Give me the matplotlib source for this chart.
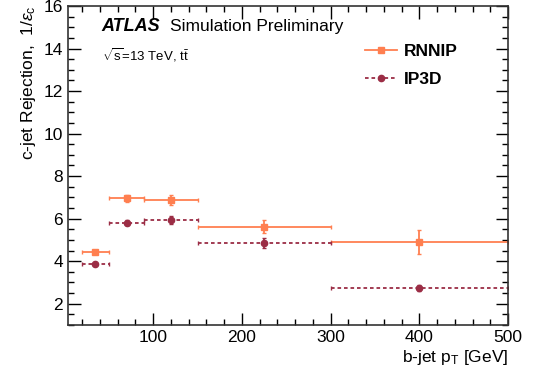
import matplotlib
matplotlib.use("Agg")
import matplotlib.pyplot as plt
from matplotlib.ticker import MultipleLocator
from matplotlib.lines import Line2D

plt.rcParams['font.family'] = ['Liberation Sans', 'DejaVu Sans']
plt.rcParams['mathtext.fontset'] = 'custom'
plt.rcParams['mathtext.rm'] = 'Liberation Sans'
plt.rcParams['mathtext.it'] = 'Liberation Sans:italic'
plt.rcParams['mathtext.bf'] = 'Liberation Sans:bold'

bin_lo = [20, 50, 90, 150, 300]
bin_hi = [50, 90, 150, 300, 500]
centers = [35, 70, 120, 225, 400]
rnnip = [4.43, 6.95, 6.88, 5.62, 4.90]
rnnip_err = [0.08, 0.15, 0.22, 0.30, 0.56]
ip3d = [3.86, 5.80, 5.93, 4.86, 2.74]
ip3d_err = [0.06, 0.12, 0.18, 0.22, 0.16]

c_rnn = '#FF7F50'
c_ip = '#9B2D45'

fig = plt.figure(figsize=(5.35, 3.74), dpi=100)
ax = fig.add_axes([0.127, 0.131, 0.823, 0.853])

xlo = [c - l for c, l in zip(centers, bin_lo)]
xhi = [h - c for c, h in zip(centers, bin_hi)]

ax.errorbar(centers, rnnip, xerr=[xlo, xhi], yerr=rnnip_err, fmt='s', color=c_rnn,
            ms=4.5, lw=1.3, capsize=1.5, capthick=1.0)
e2 = ax.errorbar(centers, ip3d, xerr=[xlo, xhi], yerr=ip3d_err, fmt='o', color=c_ip,
                 ms=4.5, lw=1.3, capsize=1.5, capthick=1.0)
for ln in e2[2]:
    ln.set_linestyle((0, (2.0, 1.6)))

ax.set_xlim(4, 500)
ax.set_ylim(1, 16)
ax.xaxis.set_major_locator(MultipleLocator(100))
ax.xaxis.set_minor_locator(MultipleLocator(20))
ax.yaxis.set_major_locator(MultipleLocator(2))
ax.yaxis.set_minor_locator(MultipleLocator(0.5))
ax.tick_params(which='both', direction='in', top=True, right=True, labelsize=12.5, width=1.0)
ax.tick_params(which='major', length=9)
ax.tick_params(which='minor', length=4.5)
for s in ax.spines.values():
    s.set_linewidth(1.2)
    s.set_color('#333333')

ax.set_xlabel(r'b-jet p$_{\rm T}$ [GeV]', fontsize=12.5, loc='right', labelpad=2)
ax.set_ylabel(r'c-jet Rejection,  1/$\varepsilon_{\rm c}$', fontsize=12.5, loc='top', labelpad=4)

ax.text(0.075, 0.935, 'ATLAS', transform=ax.transAxes, fontsize=13, fontweight='bold',
        fontstyle='italic', va='center')
ax.text(0.232, 0.935, 'Simulation Preliminary', transform=ax.transAxes, fontsize=12.5, va='center')
ax.text(0.078, 0.845, r'$\sqrt{\rm s}$=13 TeV, t$\bar{\rm t}$', transform=ax.transAxes,
        fontsize=9.5, va='center')

h1 = Line2D([], [], color=c_rnn, marker='s', ms=4.5, lw=1.3)
h2 = Line2D([], [], color=c_ip, marker='o', ms=4.5, lw=1.3, linestyle=(0, (2.0, 1.6)))
ax.legend(handles=[h1, h2], labels=['RNNIP', 'IP3D'], loc='upper left',
          bbox_to_anchor=(0.64, 0.93), frameon=False,
          prop={'weight': 'bold', 'size': 12.5}, handlelength=1.8, handletextpad=0.4,
          labelspacing=0.75)

fig.savefig('out.png', dpi=100)
